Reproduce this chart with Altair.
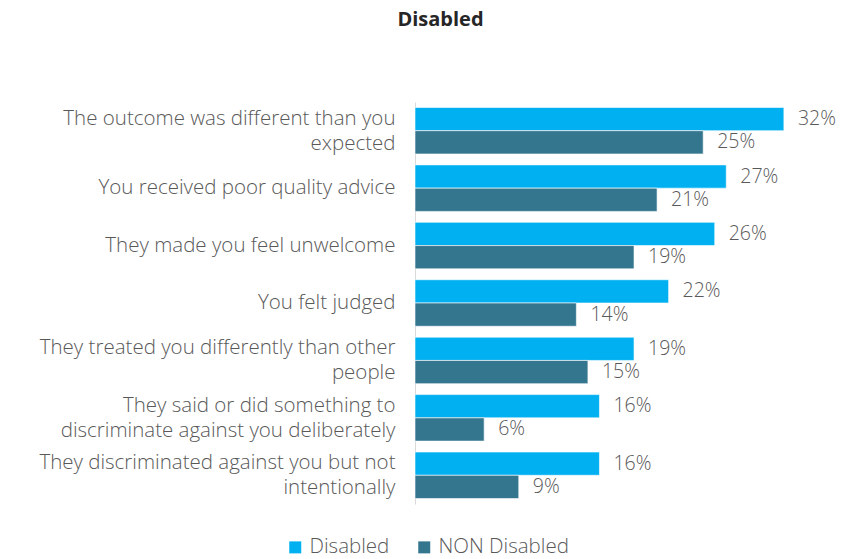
import altair as alt
import pandas as pd

categories = [
    "The outcome was different than you|expected",
    "You received poor quality advice",
    "They made you feel unwelcome",
    "You felt judged",
    "They treated you differently than other|people",
    "They said or did something to|discriminate against you deliberately",
    "They discriminated against you but not|intentionally",
]
series = ["Disabled", "NON Disabled"]
disabled = [32, 27, 26, 22, 19, 16, 16]
non_disabled = [25, 21, 19, 14, 15, 6, 9]

rows = []
for c, d, n in zip(categories, disabled, non_disabled):
    rows.append({"category": c, "series": series[0], "value": d})
    rows.append({"category": c, "series": series[1], "value": n})
df = pd.DataFrame(rows)

FONT = "Open Sans"
GRAY = "#595959"

y = alt.Y(
    "category:N",
    sort=categories,
    title=None,
    scale=alt.Scale(paddingInner=0.19, paddingOuter=0.095),
    axis=alt.Axis(
        labelExpr="split(datum.label, '|')",
        labelFont=FONT,
        labelFontSize=20.5,
        labelFontWeight=300,
        labelColor=GRAY,
        labelPadding=20,
        labelLineHeight=25,
        labelLimit=420,
        labelOffset={"condition": {"test": "indexof(datum.label, '|') >= 0", "value": -12}, "value": 0},
        ticks=False,
        domainColor="#d9d9d9",
        domainWidth=1,
    ),
)
yoff = alt.YOffset("series:N", sort=series)
x = alt.X("value:Q", scale=alt.Scale(domain=[0, 36]), axis=None)
color = alt.Color(
    "series:N",
    sort=series,
    scale=alt.Scale(domain=series, range=["#00B0F0", "#35768F"]),
    legend=alt.Legend(
        title=None,
        orient="none",
        direction="horizontal",
        legendX=-130,
        legendY=435,
        symbolType="square",
        symbolSize=144,
        symbolStrokeWidth=0,
        labelFont=FONT,
        labelFontSize=20.5,
        labelFontWeight=300,
        labelColor=GRAY,
        columnPadding=24,
        labelOffset=4,
        padding=0,
    ),
)

bars = alt.Chart(df).mark_bar(stroke="white", strokeWidth=0.6).encode(
    y=y, yOffset=yoff, x=x, color=color
)
text = (
    alt.Chart(df)
    .transform_calculate(label="datum.value + '%'")
    .mark_text(align="left", baseline="middle", dx=14, font=FONT, fontSize=19.5,
               fontWeight=300, color=GRAY)
    .encode(y=y, yOffset=yoff, x=x, text="label:N")
)

chart = (
    alt.layer(bars, text)
    .properties(
        width=415,
        height=402,
        title=alt.TitleParams(
            "Disabled",
            anchor="middle",
            frame="group",
            dx=-182,
            offset=72,
            font=FONT,
            fontSize=20,
            fontWeight="bold",
            color="#262626",
        ),
        padding={"left": 407, "top": 94, "right": 10, "bottom": 54},
        autosize="none",
    )
    .configure_view(stroke=None)
)

chart.save("out.html", embed_options={"renderer": "svg", "actions": False})
